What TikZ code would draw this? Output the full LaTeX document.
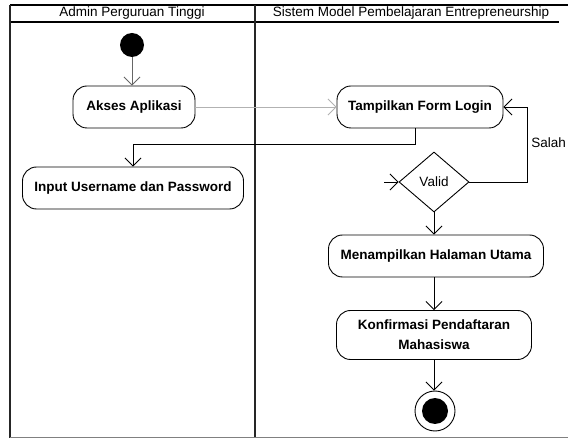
\documentclass[tikz,border=0pt]{standalone}
\usepackage{fontspec}
\setmainfont{Liberation Sans}
\usetikzlibrary{arrows.meta,shapes.geometric}
\begin{document}
\begin{tikzpicture}[x=1pt,y=-1pt,
  act/.style={draw=black,line width=0.9pt,rounded corners=14pt,fill=white,
    minimum height=42pt,inner sep=0pt,align=center,
    font=\fontsize{13.5}{20}\selectfont\bfseries},
  decision/.style={draw=black,line width=0.9pt,diamond,fill=white,inner sep=0pt,
    minimum width=70pt,minimum height=60pt,font=\fontsize{13.5}{16}\selectfont},
  flow/.style={draw=black,line width=0.9pt,
    -{Straight Barb[length=8pt,width=16pt,line width=0.8pt]}},
  faint/.style={flow,draw=black!30},
  lane/.style={draw=black!85,line width=2pt},
  hdr/.style={font=\fontsize{13.5}{16}\selectfont}
]
\useasboundingbox (0,0) rectangle (568,438);

% swimlane frame
\draw[line width=1.4pt] (10,5) -- (568,5);
\draw[line width=1.4pt] (10,22) -- (559,22);
\draw[lane] (10,5) -- (10,438);
\draw[lane,line width=2.4pt] (255,5) -- (255,438);
\draw[draw=black!50,line width=1pt] (10,437) -- (568,437);
\node[hdr] (laneA) at (132,13.5) {Admin Perguruan Tinggi};
\node[hdr] (laneB) at (411,13.5) {Sistem Model Pembelajaran Entrepreneurship};

% activity nodes
\node[circle,fill=black,minimum size=24pt,inner sep=0pt] (start) at (132,45) {};
\node[act,minimum width=122pt] (akses) at (134,107) {Akses Aplikasi};
\node[act,minimum width=166pt] (tamp) at (420,107) {Tampilkan Form Login};
\node[act,minimum width=221pt] (input) at (133,188) {Input Username dan Password};
\node[decision] (valid) at (434,182) {Valid};
\node[act,minimum width=215pt] (mena) at (436,256) {Menampilkan Halaman Utama};
\node[act,minimum width=195pt,minimum height=49pt] (konf) at (434,335)
  {Konfirmasi Pendaftaran\\Mahasiswa};
\node[circle,draw=black,line width=0.9pt,minimum size=40pt,inner sep=0pt] (end) at (435,411) {};
\node[circle,fill=black,minimum size=26pt,inner sep=0pt] (endin) at (end.center) {};

% helper points
\coordinate (vin) at (384,182);
\coordinate (loop) at (527,182);
\coordinate (split) at (415,144);

% flows
\draw[flow,draw=black!60] (start) -- (start |- akses.north);
\draw[faint] (akses.east) -- (tamp.west);
\draw[flow] (split |- tamp.south) -- (split) -| (input.north);
\draw[flow] (vin) -- (valid.west);
\draw[flow] (valid.east) -- (loop) |- (tamp.east);
\node[hdr,anchor=east,inner sep=1pt] (salah) at (567,143) {Salah};
\draw[flow] (valid.south) -- (valid.south |- mena.north);
\draw[flow] (valid.south |- mena.south) -- (valid.south |- konf.north);
\draw[flow] (valid.south |- konf.south) -- (valid.south |- end.north);
\end{tikzpicture}
\end{document}
